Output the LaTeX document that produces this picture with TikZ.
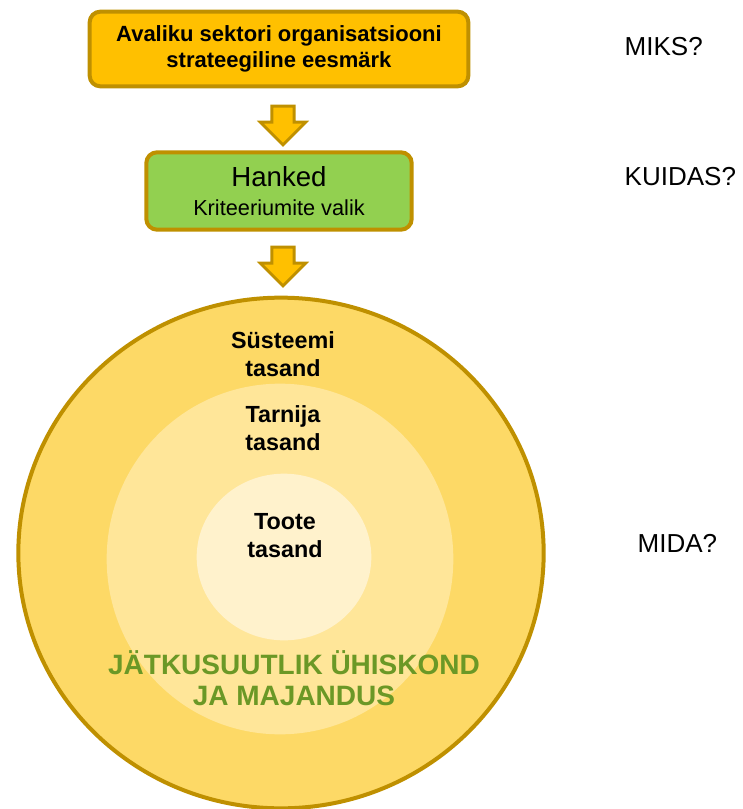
\documentclass[tikz,border=0pt]{standalone}
\usepackage{fontspec}
\setmainfont{Liberation Sans}
\usetikzlibrary{shapes.geometric,shapes.arrows}
\definecolor{goldline}{HTML}{BF9000}
\definecolor{goldfill}{HTML}{FFC000}
\definecolor{greenfill}{HTML}{92D050}
\definecolor{ringout}{HTML}{FDD966}
\definecolor{ringmid}{HTML}{FFE699}
\definecolor{ringin}{HTML}{FFF2CC}
\definecolor{greentext}{RGB}{107,152,38}
\tikzset{
  stagebox/.style={draw=goldline, line width=3pt, rounded corners=8pt, align=center, inner sep=0pt},
  downarrow/.style={single arrow, draw=goldline, fill=goldfill, line width=2.2pt, rotate=-90,
    minimum height=29pt, minimum width=34pt, single arrow head extend=8.5pt,
    inner xsep=0pt, inner ysep=7pt},
  ring/.style={ellipse, inner sep=0pt},
  levellabel/.style={align=center, font=\fontsize{17.5}{21}\selectfont\bfseries},
  question/.style={anchor=west, font=\fontsize{19.5}{23}\selectfont}
}
\begin{document}
\begin{tikzpicture}[x=0.75pt,y=-0.75pt]
\useasboundingbox (0,0) rectangle (742,809);

\node[stagebox, fill=goldfill, minimum width=284pt, minimum height=56pt,
  font=\fontsize{16.5}{19}\selectfont\bfseries] (goal) at (279,49)
  {Avaliku sektori organisatsiooni\\strateegiline eesmärk};
\node[stagebox, fill=greenfill, minimum width=199pt, minimum height=58pt,
  font=\fontsize{16.3}{22}\selectfont] (procure) at (279,191)
  {{\fontsize{20.7}{23}\selectfont Hanked}\\Kriteeriumite valik};

\node[downarrow] (arrowone) at (283,120) {};
\node[downarrow] (arrowtwo) at (283,261) {};

\node[ring, draw=goldline, line width=3pt, fill=ringout, minimum width=394pt, minimum height=383pt] (system) at (281,553) {};
\node[ring, fill=ringmid, minimum width=260pt, minimum height=263pt] (supplier) at (280,559) {};
\node[ring, fill=ringin, minimum width=131pt, minimum height=125pt] (product) at (284,557) {};

\node[levellabel] (systemtext) at (283,354) {Süsteemi\\tasand};
\node[levellabel] (suppliertext) at (283,428) {Tarnija\\tasand};
\node[levellabel] (producttext) at (285,536) {Toote\\tasand};
\node[align=center, text=greentext, font=\fontsize{21}{23.5}\selectfont\bfseries] (society) at (294,678)
  {JÄTKUSUUTLIK ÜHISKOND\\JA MAJANDUS};

\node[question] (why) at (620,47) {MIKS?};
\node[question] (how) at (620,177) {KUIDAS?};
\node[question] (what) at (633,543) {MIDA?};
\end{tikzpicture}
\end{document}
